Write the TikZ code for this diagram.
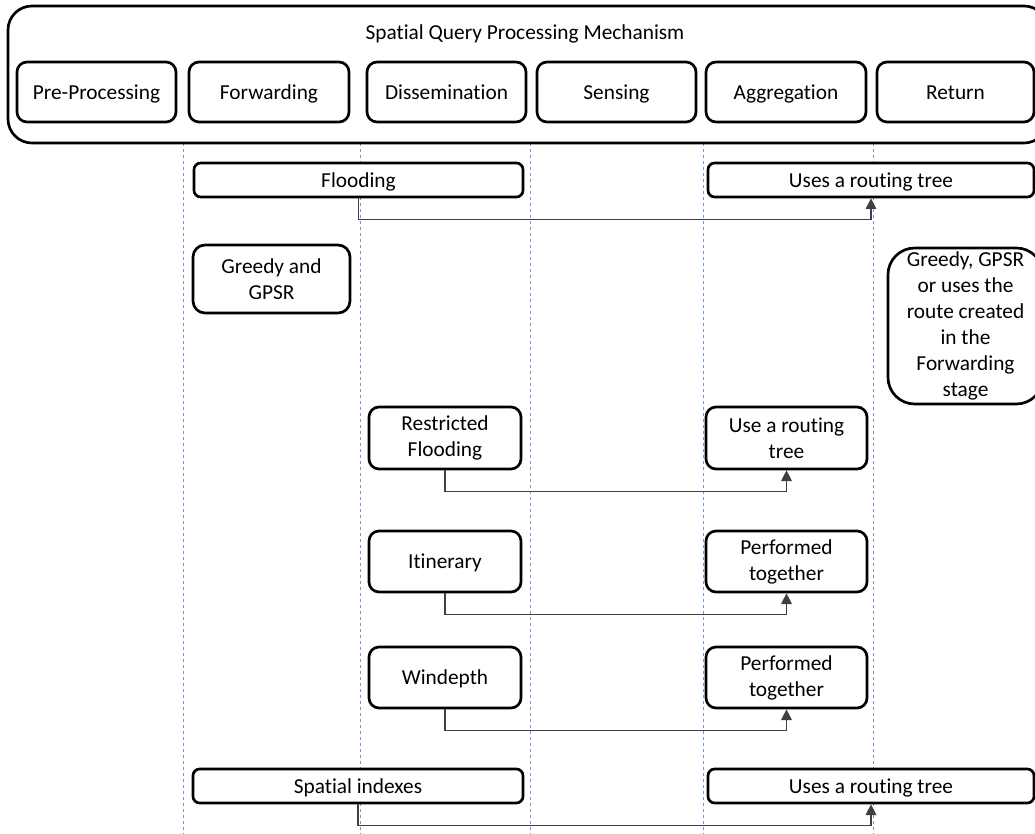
\documentclass[tikz,border=0pt]{standalone}
\usepackage{fontspec}
\setmainfont{Carlito}[Ligatures=NoCommon]
\usetikzlibrary{arrows.meta}
\definecolor{lanecol}{RGB}{110,155,210}
\definecolor{conncol}{RGB}{64,64,64}
\tikzset{
  box/.style={draw=black, line width=2pt, fill=white, rounded corners=7.5pt,
    inner sep=0pt, align=center, font=\fontsize{16}{19.4}\selectfont},
  oneline/.style={text height=13.5pt, text depth=2.5pt},
  lane/.style={draw=lanecol, line width=0.75pt, dash pattern=on 2.25pt off 2.25pt},
  conn/.style={draw=conncol, line width=0.9pt, -{Triangle[width=8pt,length=8pt]}},
}
% rounded box from its corners (x1,y1)-(x2,y2), given in picture units
\newcommand{\boxat}[7]{%
  \node[box, #1, minimum width={(#5-#3)*0.75pt}, minimum height={(#6-#4)*0.75pt}]
    (#2) at ({(#3+#5)/2},{(#4+#6)/2}) {#7};}
\begin{document}
\begin{tikzpicture}[x=0.75pt, y=-0.75pt]
  \useasboundingbox (0,0) rectangle (1035,834);
  \clip (0,0) rectangle (1035,834);

  % stage lanes
  \foreach \lx/\ln in {183/a,360/b,530/c,703/d,873/e} {
    \coordinate (top\ln) at (\lx,143);
    \coordinate (bot\ln) at (\lx,834);
    \draw[lane] (top\ln) -- (bot\ln);
  }

  % mechanism frame and its stages
  \boxat{fill=none, rounded corners=18pt}{outer}{8}{6}{1048}{143}{}
  \node[font=\fontsize{16}{19.4}\selectfont, oneline] (title) at (525,32) {Spatial Query Processing Mechanism};
  \boxat{oneline}{pre}{17}{62}{176}{122}{Pre-Processing}
  \boxat{oneline}{fwd}{189}{62}{349}{122}{Forwarding}
  \boxat{oneline}{dis}{367}{62}{526}{122}{Dissemination}
  \boxat{oneline}{sen}{537}{62}{696}{122}{Sensing}
  \boxat{oneline}{agg}{706}{62}{866}{122}{Aggregation}
  \boxat{oneline}{ret}{877}{62}{1034}{122}{Return}

  % techniques
  \boxat{oneline, rounded corners=5pt}{flood}{194}{163}{523}{197}{Flooding}
  \boxat{oneline, rounded corners=5pt}{tree1}{708}{163}{1034}{197}{Uses a routing tree}

  \boxat{rounded corners=9pt}{greedy}{193}{245}{350}{313}{Greedy and\\GPSR}
  \boxat{rounded corners=20pt}{gret}{888}{248}{1043}{404}%
    {Greedy, GPSR\\or uses the\\route created\\in the\\Forwarding\\stage}

  \boxat{}{rflood}{369}{407}{521}{469}{Restricted\\Flooding}
  \boxat{}{tree2}{706}{407}{867}{469}{Use a routing\\tree}

  \boxat{oneline}{itin}{369}{531}{521}{592}{Itinerary}
  \boxat{}{perf1}{706}{531}{867}{592}{Performed\\together}

  \boxat{oneline}{wind}{369}{647}{521}{708}{Windepth}
  \boxat{}{perf2}{706}{647}{867}{708}{Performed\\together}

  \boxat{oneline, rounded corners=5pt}{sidx}{193}{769}{523}{803}{Spatial indexes}
  \boxat{oneline, rounded corners=5pt}{tree3}{708}{769}{1034}{803}{Uses a routing tree}

  % links between dissemination and aggregation
  \draw[conn] (flood.south) -- ++(0,21) -| (tree1.south);
  \draw[conn] (rflood.south) -- ++(0,21) -| (tree2.south);
  \draw[conn] (itin.south) -- ++(0,21) -| (perf1.south);
  \draw[conn] (wind.south) -- ++(0,21) -| (perf2.south);
  \draw[conn] (sidx.south) -- ++(0,21) -| (tree3.south);
\end{tikzpicture}
\end{document}
